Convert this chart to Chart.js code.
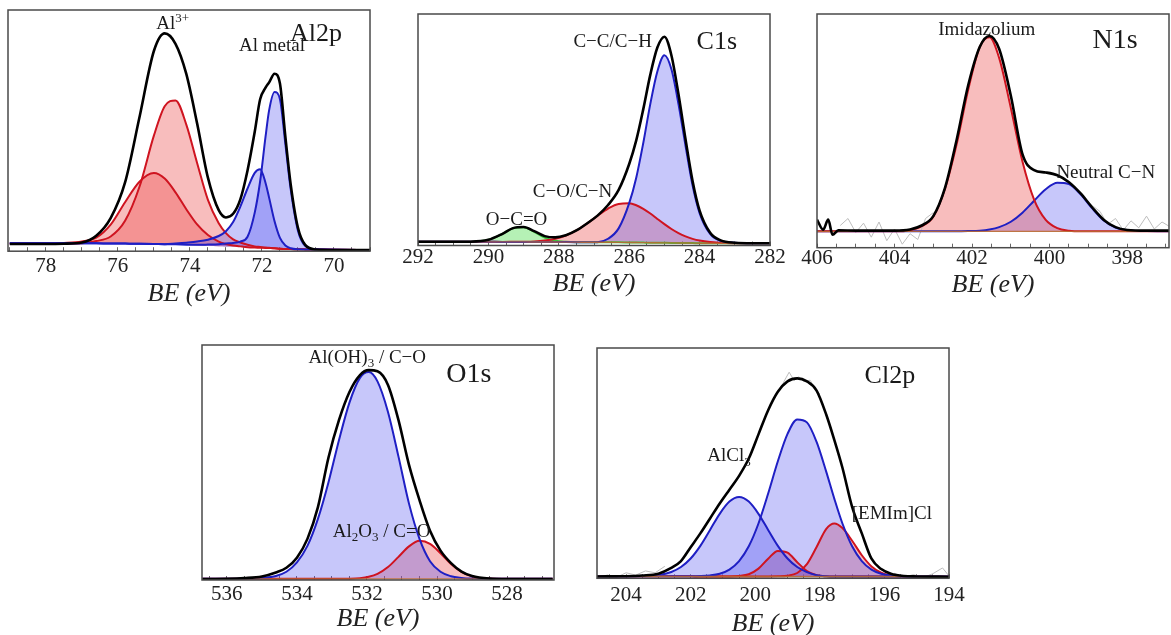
<!DOCTYPE html>
<html>
<head>
<meta charset="utf-8">
<script src="https://cdn.jsdelivr.net/npm/chart.js@4.4.1/dist/chart.umd.min.js"></script>
<style>
  html, body { margin: 0; padding: 0; background: #fff; }
  body { width: 1171px; height: 635px; position: relative; overflow: hidden; }
  canvas { position: absolute; }
</style>
</head>
<body>
<script>
// ──────────────────────────────────────────────
// XPS core-level fits: Al2p, C1s, N1s, O1s, Cl2p
// ──────────────────────────────────────────────

// Al2p
const AL_TICKS = [78, 76, 74, 72, 70];
const AL_BE = [79, 78, 77.5, 77, 76.6, 76.2, 75.8, 75.4, 75.0, 74.7, 74.4, 74.1, 73.8, 73.5, 73.2, 73.0,
  72.8, 72.6, 72.4, 72.2, 72.05, 71.9, 71.8, 71.65, 71.5, 71.35, 71.2, 71.0, 70.8, 70.5, 70.0, 69.0];
const AL_ENVELOPE = [3.0, 3.0, 3.1, 3.6, 6.4, 13.7, 28.5, 55.5, 83, 90.3, 86, 73.5, 53, 30.5, 17, 14,
  15.5, 21.5, 33.5, 49.5, 63, 67.8, 70, 73.6, 69.5, 47.5, 27.5, 9.7, 2.6, 0.7, 0.5, 0.5];
const AL_OXIDE_A = [3.2, 3.2, 3.2, 3.3, 4.2, 6.1, 12.6, 26.7, 47.9, 60.1, 62.5, 52.5, 36.6, 21.3, 11.6, 7.5,
  4.9, 3.6, 2.7, 2.0, 1.75, 1.5, 1.4, 1.25, 1.0, 0.95, 0.9, 0.8, 0.75, 0.7, 0.6, 0.5];
const AL_OXIDE_B = [3.2, 3.2, 3.4, 4.0, 5.6, 11.0, 20.3, 28.8, 32.4, 30.1, 24.4, 17.4, 11.1, 6.7, 4.0, 3.0,
  2.4, 2.0, 1.65, 1.5, 1.45, 1.35, 1.3, 1.2, 1.0, 0.95, 0.9, 0.8, 0.75, 0.7, 0.6, 0.5];
const AL_METAL_A = [3.3, 3.3, 3.3, 3.3, 3.25, 3.2, 3.15, 3.1, 3.0, 2.9, 3.2, 3.55, 4.0, 4.75, 6.3, 8.3,
  12.1, 18.5, 26.0, 32.5, 34.0, 28.3, 22.1, 12.4, 5.5, 2.35, 1.2, 0.8, 0.75, 0.7, 0.6, 0.5];
const AL_METAL_B = [3.3, 3.3, 3.3, 3.3, 3.25, 3.2, 3.15, 3.1, 3.0, 2.9, 2.85, 2.7, 2.65, 2.75, 2.9, 3.2,
  3.4, 4.0, 6.0, 16.0, 29.0, 47.5, 58.5, 66.0, 63.0, 44.5, 25.5, 8.5, 2.2, 0.7, 0.6, 0.5];
const AL_BASE = [3.2, 3.2, 3.2, 3.2, 3.15, 3.1, 3.05, 3.0, 2.9, 2.8, 2.65, 2.55, 2.4, 2.25, 2.1, 2.0,
  1.9, 1.8, 1.65, 1.5, 1.45, 1.35, 1.3, 1.2, 1.0, 0.95, 0.9, 0.8, 0.75, 0.7, 0.6, 0.5];

// C1s
const C_TICKS = [292, 290, 288, 286, 284, 282];
const C_BE = [292, 291, 290.5, 290, 289.6, 289.3, 289.0, 288.7, 288.4, 288.1, 287.8, 287.5, 287.2, 286.9, 286.6, 286.3,
  286.0, 285.8, 285.6, 285.4, 285.2, 285.0, 284.8, 284.6, 284.4, 284.2, 284.0, 283.7, 283.4, 283.0, 282.5, 282];
const C_ENVELOPE = [1.6, 1.6, 1.65, 2.45, 5.05, 7.5, 8.0, 6.2, 4.05, 3.5, 4.4, 6.5, 9.5, 12.9, 17.5, 24.0,
  35.2, 45.4, 58.9, 73.8, 85.5, 90.2, 82.1, 65.3, 45.9, 27.9, 15.1, 5.5, 2.2, 1.2, 1.0, 1.0];
const C_OCO = [1.6, 1.6, 1.65, 2.45, 5.05, 7.45, 7.9, 5.9, 3.4, 2.05, 1.6, 1.44, 1.42, 1.4, 1.38, 1.36,
  1.3, 1.28, 1.25, 1.22, 1.18, 1.15, 1.12, 1.1, 1.07, 1.04, 1.0, 1.0, 1.0, 1.0, 1.0, 1.0];
const C_CO = [1.6, 1.6, 1.6, 1.58, 1.56, 1.6, 1.65, 1.78, 2.15, 2.92, 4.32, 6.51, 9.48, 12.85, 15.98, 17.96,
  18.2, 17.38, 15.85, 13.82, 11.48, 9.21, 7.12, 5.34, 3.93, 2.87, 2.12, 1.48, 1.2, 1.0, 1.0, 1.0];
const C_CC = [1.6, 1.6, 1.6, 1.58, 1.56, 1.55, 1.55, 1.52, 1.5, 1.48, 1.46, 1.44, 1.42, 1.45, 2.9, 7.4,
  18.3, 29.3, 44.3, 61.2, 75.2, 82.2, 76.1, 61.1, 43.1, 26.0, 14.0, 5.0, 2.0, 1.2, 1.0, 1.0];
const C_BASE = [1.6, 1.6, 1.6, 1.58, 1.56, 1.55, 1.55, 1.52, 1.5, 1.48, 1.46, 1.44, 1.42, 1.4, 1.38, 1.36,
  1.3, 1.28, 1.25, 1.22, 1.18, 1.15, 1.12, 1.1, 1.07, 1.04, 1.0, 1.0, 1.0, 1.0, 1.0, 1.0];

// N1s
const N_TICKS = [406, 404, 402, 400, 398];
const N_BE = [406, 405.84, 405.71, 405.6, 405.45, 405, 404, 403.6, 403.3, 403.0, 402.7, 402.4, 402.1, 401.8, 401.55,
  401.3, 401.0, 400.7, 400.4, 400.1, 399.8, 399.5, 399.2, 398.9, 398.6, 398.3, 398.0, 397.5, 396.9];
const N_ENVELOPE = [12, 7.7, 12, 5.6, 7.4, 7.3, 7.3, 7.8, 9.5, 13.5, 25.5, 46, 69.5, 86, 90.6,
  85, 65, 40, 33.2, 32.2, 31, 28, 23.2, 17.2, 11.9, 8.8, 7.6, 7.3, 7.3];
const N_IMIDAZOLIUM = [7, 7, 7, 7, 7, 7, 7, 7.5, 9.2, 13.3, 25.1, 44.1, 67.6, 85.9, 90,
  81.1, 59.8, 36.9, 20.6, 11.9, 8.4, 7.3, 7, 7, 7, 7, 7, 7, 7];
const N_NEUTRAL = [7, 7, 7, 7, 7, 7, 7, 7, 7, 7, 7, 7, 7.1, 7.3, 7.8,
  8.8, 11.1, 15.0, 20.1, 25.0, 27.8, 27.2, 22.8, 16.8, 11.6, 8.6, 7.5, 7.1, 7];
const N_BASE = [7, 7, 7, 7, 7, 7, 7, 7, 7, 7, 7, 7, 7, 7, 7,
  7, 7, 7, 7, 7, 7, 7, 7, 7, 7, 7, 7, 7, 7];
const N_RAW_BE = [405.4, 405.2, 405.0, 404.8, 404.6, 404.4, 404.2, 404.0, 403.8, 403.6, 403.4, 403.2, 403.0,
  400.0, 399.1, 398.9, 398.7, 398.5, 398.3, 398.1, 397.9, 397.7, 397.5, 397.3, 397.1, 396.9];
const N_RAW = [9.5, 12.5, 6.5, 10.5, 4.5, 11, 3, 8, 1.5, 6, 3.5, 12.5, 15,
  null, 21, 18, 15.5, 10, 12.5, 7.5, 11.5, 8.5, 13.5, 8, 11, 9];

// O1s
const O_TICKS = [536, 534, 532, 530, 528];
const O_BE = [536.7, 536, 535.5, 535, 534.6, 534.3, 534.0, 533.7, 533.4, 533.1, 532.8, 532.5, 532.2, 531.95,
  531.7, 531.4, 531.1, 530.8, 530.5, 530.2, 529.9, 529.6, 529.3, 529.0, 528.5, 528, 526.7];
const O_ENVELOPE = [0.4, 0.5, 0.8, 1.5, 3.2, 5.2, 9.5, 17.5, 31, 52, 68, 80, 87.2, 89.3,
  88.8, 83, 68, 49, 34, 21, 12.5, 7.2, 3.6, 1.7, 0.6, 0.4, 0.4];
const O_HYDROXIDE = [0.5, 0.5, 0.6, 0.9, 1.7, 3.5, 7.5, 14.5, 26, 41.5, 59.5, 75.5, 86, 88.5,
  84.5, 71.5, 52.5, 32.5, 17.5, 8, 3.5, 1.6, 0.9, 0.6, 0.5, 0.5, 0.5];
const O_OXIDE = [0.5, 0.5, 0.5, 0.5, 0.5, 0.5, 0.5, 0.5, 0.5, 0.5, 0.5, 0.55, 0.8, 1.37,
  2.6, 5.5, 9.85, 14.3, 16.65, 15.4, 11.4, 6.8, 3.4, 1.55, 0.6, 0.5, 0.5];
const O_BASE = [0.5, 0.5, 0.5, 0.5, 0.5, 0.5, 0.5, 0.5, 0.5, 0.5, 0.5, 0.5, 0.5, 0.5,
  0.5, 0.5, 0.5, 0.5, 0.5, 0.5, 0.5, 0.5, 0.5, 0.5, 0.5, 0.5, 0.5];

// Cl2p
const CL_TICKS = [204, 202, 200, 198, 196, 194];
const CL_BE = [204.9, 204, 203.5, 203, 202.6, 202.3, 202.0, 201.7, 201.4, 201.1, 200.8, 200.5, 200.2, 199.9, 199.6,
  199.3, 199.0, 198.7, 198.4, 198.1, 197.8, 197.55, 197.3, 197.0, 196.7, 196.4, 196.1, 195.8, 195.4, 195, 194];
const CL_ENVELOPE = [0.8, 0.9, 1.2, 2.0, 4.5, 7.5, 13.5, 19.5, 26, 32.5, 38.5, 44.5, 52, 62.5, 73,
  81, 85.5, 86.8, 85.5, 81.5, 71, 60, 48, 31, 19.5, 8.5, 4.0, 2.0, 1.0, 0.8, 0.7];
const CL_ALCL3_A = [0.9, 0.9, 0.95, 1.4, 2.75, 4.9, 8.6, 14.1, 21.0, 28.0, 33.3, 35.3, 33.3, 28.0, 21.0,
  14.1, 8.6, 4.9, 2.7, 1.35, 0.9, 0.8, 0.8, 0.8, 0.8, 0.75, 0.75, 0.75, 0.75, 0.7, 0.7];
const CL_ALCL3_B = [0.9, 0.9, 0.9, 0.9, 0.85, 0.85, 0.85, 0.95, 1.25, 2.0, 3.8, 7.5, 13.9, 23.8, 36.8,
  50.8, 62.7, 69.0, 67.7, 59.2, 46.2, 34.5, 23.8, 13.9, 7.5, 3.8, 2.0, 1.2, 0.85, 0.7, 0.7];
const CL_EMIM_A = [0.9, 0.9, 0.9, 0.9, 0.85, 0.85, 0.85, 0.8, 0.8, 0.8, 0.8, 1.0, 1.76, 4.2, 8.5,
  11.9, 11.1, 7.0, 3.15, 1.37, 0.88, 0.8, 0.8, 0.8, 0.8, 0.75, 0.75, 0.75, 0.75, 0.7, 0.7];
const CL_EMIM_B = [0.9, 0.9, 0.9, 0.9, 0.85, 0.85, 0.85, 0.8, 0.8, 0.8, 0.8, 0.8, 0.8, 0.8, 0.8,
  0.84, 1.1, 2.3, 6.15, 13.6, 21.5, 23.8, 21.8, 16.3, 10.0, 5.15, 2.45, 1.25, 0.8, 0.7, 0.7];
const CL_BASE = [0.9, 0.9, 0.9, 0.9, 0.85, 0.85, 0.85, 0.8, 0.8, 0.8, 0.8, 0.8, 0.8, 0.8, 0.8,
  0.8, 0.8, 0.8, 0.8, 0.8, 0.8, 0.8, 0.8, 0.8, 0.8, 0.75, 0.75, 0.75, 0.75, 0.7, 0.7];
const CL_RAW_BE = [204.6, 204.3, 204.0, 203.7, 203.4, 203.1, 202.8, 201.0, 199.2, 199.05, 198.95, 198.8, 198.65,
  198.5, 198.3, 198.15, 198.0, 197.0, 195.7, 195.4, 195.1, 194.8, 194.5, 194.2, 194.0];
const CL_RAW = [1.5, 0.4, 2.4, 1.4, 3.2, 2.4, 5.2, null, 83, 87, 89.5, 86, 87.5,
  85.5, 86, 82.5, 80, null, 2.2, 0.5, 1.6, 0.3, 2.0, 4.5, 1.0];

// ── styling ──
const SERIF = '"Liberation Serif", "Times New Roman", "DejaVu Serif", serif';
const INK = '#1a1a1a';
const RED = '#cf1420';
const BLUE = '#1f1fc4';
const GREEN = '#3cc43c';
const RED_FILL = 'rgba(236, 72, 72, 0.36)';
const BLUE_FILL = 'rgba(86, 86, 240, 0.33)';
const GREEN_FILL = 'rgba(90, 225, 90, 0.45)';
const BASE_LINE = 'rgba(185, 105, 50, 0.9)';
const RAW_LINE = '#bdbdbd';

const PAD_X = 24, PAD_T = 6, PAD_B = 6;
const TICK_SIZE = 21, TITLE_SIZE = 26;

const PANELS = [
  {
    box: [8, 10, 370, 251], range: [69, 79.05], ticks: AL_TICKS, tickPad: 8.3, titlePad: -3.8,
    be: AL_BE, envelope: AL_ENVELOPE, base: AL_BASE, baseColor: 'rgba(0,0,0,0)',
    parts: [
      { y: AL_METAL_B, line: BLUE, fill: BLUE_FILL },
      { y: AL_METAL_A, line: BLUE, fill: BLUE_FILL },
      { y: AL_OXIDE_A, line: RED, fill: RED_FILL },
      { y: AL_OXIDE_B, line: RED, fill: RED_FILL },
    ],
    notes: [
      { text: 'Al^{3+}', x: 74.48, y: 94.8, size: 19 },
      { text: 'Al metal', x: 71.72, y: 85.5, size: 19 },
      { text: 'Al2p', x: 70.5, y: 90.9, size: 26 },
    ],
  },
  {
    box: [418, 14, 770, 245.7], range: [282, 292], ticks: C_TICKS, tickPad: 5.3, titlePad: -2.1,
    be: C_BE, envelope: C_ENVELOPE, base: C_BASE, baseColor: BASE_LINE,
    parts: [
      { y: C_CC, line: BLUE, fill: BLUE_FILL },
      { y: C_CO, line: RED, fill: RED_FILL },
      { y: C_OCO, line: GREEN, fill: GREEN_FILL },
    ],
    notes: [
      { text: 'C\u2212C/C\u2212H', x: 286.47, y: 88.3, size: 19 },
      { text: 'C1s', x: 283.51, y: 88.6, size: 26 },
      { text: 'C\u2212O/C\u2212N', x: 287.61, y: 23.6, size: 19 },
      { text: 'O\u2212C=O', x: 289.2, y: 11.65, size: 19 },
    ],
  },
  {
    box: [817, 14, 1169, 247.7], range: [396.92, 406], ticks: N_TICKS, tickPad: 4.1, titlePad: -0.9,
    be: N_BE, envelope: N_ENVELOPE, base: N_BASE, baseColor: BASE_LINE,
    raw: { be: N_RAW_BE, y: N_RAW },
    parts: [
      { y: N_IMIDAZOLIUM, line: RED, fill: RED_FILL },
      { y: N_NEUTRAL, line: BLUE, fill: BLUE_FILL },
    ],
    notes: [
      { text: 'Imidazolium', x: 401.62, y: 93.9, size: 19 },
      { text: 'N1s', x: 398.31, y: 89.2, size: 28 },
      { text: 'Neutral C\u2212N', x: 398.55, y: 32.5, size: 19 },
    ],
  },
  {
    box: [202, 345, 554, 580], range: [526.66, 536.71], ticks: O_TICKS, tickPad: 8.0, titlePad: -7,
    be: O_BE, envelope: O_ENVELOPE, base: O_BASE, baseColor: BASE_LINE,
    parts: [
      { y: O_HYDROXIDE, line: BLUE, fill: BLUE_FILL },
      { y: O_OXIDE, line: RED, fill: RED_FILL },
    ],
    notes: [
      { text: 'Al(OH)_{3} / C\u2212O', x: 531.99, y: 94.9, size: 19 },
      { text: 'O1s', x: 529.09, y: 88.3, size: 28 },
      { text: 'Al_{2}O_{3} / C=O', x: 531.58, y: 20.9, size: 19 },
    ],
  },
  {
    box: [597, 348, 949, 578.3], range: [194, 204.9], ticks: CL_TICKS, tickPad: 10.2, titlePad: -4.7,
    be: CL_BE, envelope: CL_ENVELOPE, base: CL_BASE, baseColor: BASE_LINE,
    raw: { be: CL_RAW_BE, y: CL_RAW },
    parts: [
      { y: CL_ALCL3_B, line: BLUE, fill: BLUE_FILL },
      { y: CL_ALCL3_A, line: BLUE, fill: BLUE_FILL },
      { y: CL_EMIM_B, line: RED, fill: RED_FILL },
      { y: CL_EMIM_A, line: RED, fill: RED_FILL },
    ],
    notes: [
      { text: 'Cl2p', x: 195.83, y: 88.7, size: 26 },
      { text: 'AlCl_{3}', x: 200.81, y: 53.5, size: 19 },
      { text: '[EMIm]Cl', x: 195.77, y: 28.4, size: 19 },
    ],
  },
];

function xy(xs, ys) {
  return xs.map((x, i) => ({ x, y: ys[i] }));
}

/** Text with ^{sup} and _{sub} runs, centred on (x, y). */
function drawRich(ctx, text, x, y, size) {
  const runs = [];
  const re = /([\^_])\{([^}]*)\}/g;
  let last = 0, m;
  while ((m = re.exec(text))) {
    if (m.index > last) runs.push({ t: text.slice(last, m.index), k: '' });
    runs.push({ t: m[2], k: m[1] });
    last = re.lastIndex;
  }
  if (last < text.length) runs.push({ t: text.slice(last), k: '' });

  const small = Math.round(size * 0.68);
  const setFont = r => { ctx.font = `${r.k ? small : size}px ${SERIF}`; };
  const total = runs.reduce((s, r) => { setFont(r); return s + ctx.measureText(r.t).width; }, 0);
  let cx = x - total / 2;
  const baseline = y + size * 0.33;
  ctx.textAlign = 'left';
  ctx.textBaseline = 'alphabetic';
  for (const r of runs) {
    setFont(r);
    const dy = r.k === '^' ? -size * 0.34 : r.k === '_' ? size * 0.22 : 0;
    ctx.fillText(r.t, cx, baseline + dy);
    cx += ctx.measureText(r.t).width;
  }
}

const panelDecor = {
  id: 'panelDecor',
  afterDatasetsDraw(chart, args, opts) {
    const { ctx, chartArea: a, scales: { x, y } } = chart;
    ctx.save();
    ctx.strokeStyle = '#4a4a4a';
    ctx.lineWidth = 1.5;
    ctx.strokeRect(a.left, a.top, a.right - a.left, a.bottom - a.top);
    ctx.fillStyle = INK;
    for (const n of opts.notes) {
      drawRich(ctx, n.text, x.getPixelForValue(n.x), y.getPixelForValue(n.y), n.size);
    }
    ctx.restore();
  },
};

// dataset 0 = fit envelope (on top), 1 = background line, then components, raw trace last (bottom)
function buildDatasets(p) {
  const line = (data, color, width, extra = {}) => ({
    data, borderColor: color, borderWidth: width, pointRadius: 0,
    cubicInterpolationMode: 'monotone', fill: false, ...extra,
  });
  const sets = [
    line(xy(p.be, p.envelope), '#000', 2.6),
    line(xy(p.be, p.base), p.baseColor, 1.4),
  ];
  for (const part of p.parts) {
    sets.push(line(xy(p.be, part.y), part.line, 2, { fill: 1, backgroundColor: part.fill }));
  }
  if (p.raw) sets.push(line(xy(p.raw.be, p.raw.y), RAW_LINE, 1, { cubicInterpolationMode: 'default', tension: 0 }));
  return sets;
}

function renderPanel(p) {
  const [l, t, r, b] = p.box;
  const axisH = -4 + (TITLE_SIZE + p.titlePad) + TICK_SIZE + 2 * p.tickPad;
  const canvas = document.createElement('canvas');
  canvas.width = (r - l) + 2 * PAD_X;
  canvas.height = Math.round(PAD_T + (b - t) + axisH + PAD_B);
  canvas.style.left = (l - PAD_X) + 'px';
  canvas.style.top = (t - PAD_T) + 'px';
  document.body.appendChild(canvas);

  const [lo, hi] = p.range;
  const minor = [];
  for (let v = Math.ceil(lo * 2) / 2; v <= hi; v += 0.5) minor.push(v);

  return new Chart(canvas, {
    type: 'line',
    data: { datasets: buildDatasets(p) },
    options: {
      responsive: false,
      animation: false,
      events: [],
      layout: { padding: { left: PAD_X, right: PAD_X, top: PAD_T, bottom: PAD_B } },
      plugins: {
        legend: { display: false },
        tooltip: { enabled: false },
        filler: { drawTime: 'beforeDatasetsDraw' },
        panelDecor: { notes: p.notes },
      },
      scales: {
        x: {
          type: 'linear', reverse: true, min: lo, max: hi,
          afterBuildTicks: axis => { axis.ticks = minor.map(v => ({ value: v })); },
          ticks: {
            padding: p.tickPad, autoSkip: false, maxRotation: 0, minRotation: 0, color: '#222',
            font: { family: SERIF, size: TICK_SIZE, lineHeight: 1 },
            callback: v => (p.ticks.includes(v) ? String(v) : ''),
          },
          grid: { display: true, drawOnChartArea: false, drawTicks: true, tickLength: -4, color: '#666', lineWidth: 1 },
          border: { display: false },
          title: {
            display: true, text: 'BE (eV)', color: '#222',
            font: { family: SERIF, style: 'italic', size: TITLE_SIZE, lineHeight: 1 },
            padding: { top: p.titlePad, bottom: 0 },
          },
        },
        y: { display: false, min: 0, max: 100 },
      },
    },
    plugins: [panelDecor],
  });
}

PANELS.forEach(renderPanel);
</script>
</body>
</html>
